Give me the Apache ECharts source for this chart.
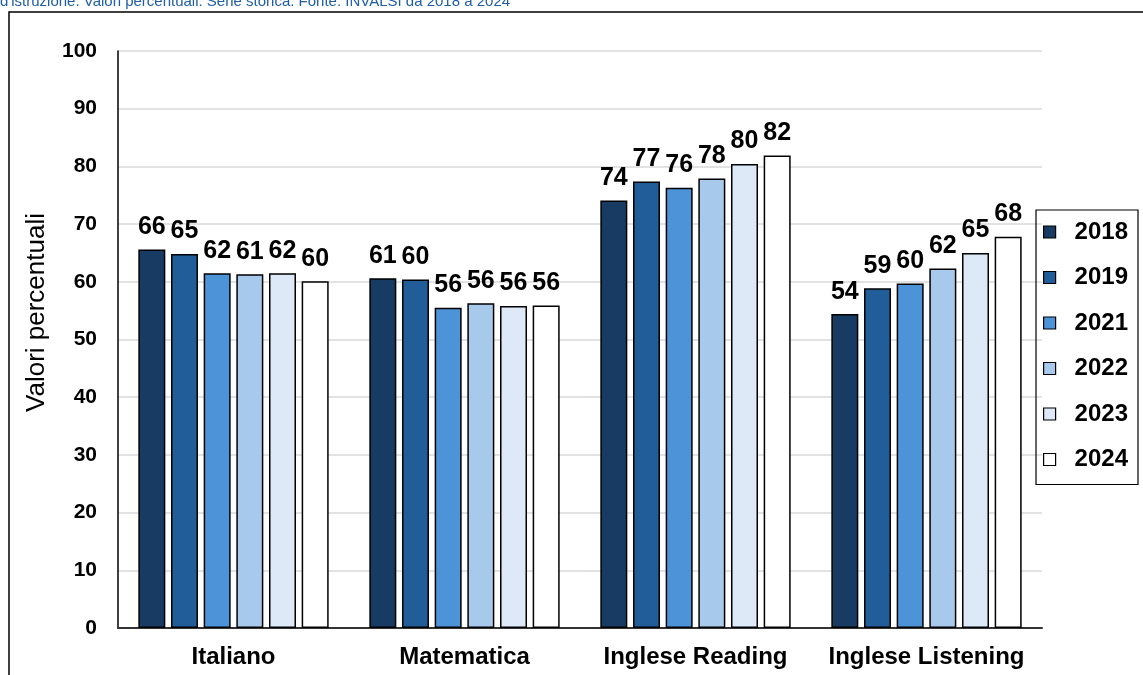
<!DOCTYPE html>
<html><head><meta charset="utf-8">
<script src="https://cdn.jsdelivr.net/npm/echarts@6/dist/echarts.min.js"></script>
<style>html,body{margin:0;padding:0;background:#fff}#c{width:1143px;height:675px}</style>
</head><body><div id="c"></div>
<script>
const categories = ['Italiano', 'Matematica', 'Inglese Reading', 'Inglese Listening'];
const years = ['2018', '2019', '2021', '2022', '2023', '2024'];
const v2018 = [65.6, 60.6, 74.1, 54.4];
const v2019 = [64.8, 60.4, 77.4, 58.9];
const v2021 = [61.5, 55.5, 76.3, 59.7];
const v2022 = [61.3, 56.3, 77.9, 62.3];
const v2023 = [61.5, 55.8, 80.4, 65.0];
const v2024 = [60.1, 55.9, 81.9, 67.8];
const yTicks = [0, 10, 20, 30, 40, 50, 60, 70, 80, 90, 100];
const titleText = "d'istruzione. Valori percentuali. Serie storica. Fonte: INVALSI da 2018 a 2024";
const yName = 'Valori percentuali';

const values = [v2018, v2019, v2021, v2022, v2023, v2024];
const colors = ['#173b63', '#215d98', '#4c93d8', '#a7caec', '#dde9f6', '#ffffff'];
const font = "'Liberation Sans', Arial, sans-serif";

const chart = echarts.init(document.getElementById('c'));
chart.setOption({
  animation: false,
  backgroundColor: '#fff',
  graphic: [
    { type: 'rect', shape: { x: 9, y: 12, width: 1200, height: 700 }, style: { fill: 'none', stroke: '#000', lineWidth: 1.5 }, z: 0 },
    { type: 'text', left: 0, top: -6, style: { text: titleText, fill: '#1f5ea6', font: '15px ' + font } }
  ],
  grid: { left: 118, right: 101, top: 51, bottom: 47, containLabel: false },
  legend: {
    orient: 'vertical', right: 5, top: 210,
    data: years,
    itemWidth: 12, itemHeight: 12, itemGap: 21.5,
    icon: 'rect',
    borderColor: '#000', borderWidth: 1.2, padding: [10, 10, 13, 7],
    textStyle: { fontSize: 24, fontWeight: 'bold', color: '#000', fontFamily: font, padding: [0, 0, 0, 14] },
    itemStyle: { borderColor: '#000', borderWidth: 1.2 }
  },
  xAxis: {
    type: 'category', data: categories,
    axisLine: { lineStyle: { color: '#333', width: 2 } },
    axisTick: { show: false },
    axisLabel: { interval: 0, fontSize: 24, fontWeight: 'bold', color: '#000', fontFamily: font, margin: 17 }
  },
  yAxis: {
    type: 'value', min: 0, max: 100, interval: 10,
    name: yName, nameLocation: 'middle', nameGap: 68,
    nameTextStyle: { fontSize: 26, color: '#000', fontFamily: font, padding: [0, 0, 0, 54] },
    axisLine: { show: true, lineStyle: { color: '#000', width: 1.5 } },
    axisTick: { show: false },
    axisLabel: { fontSize: 21, fontWeight: 'bold', color: '#000', fontFamily: font, margin: 21,
      formatter: v => yTicks.includes(v) ? String(v) : '' },
    splitLine: { lineStyle: { color: '#d9d9d9', width: 1.5 } }
  },
  series: years.map((y, i) => ({
    name: y, type: 'bar', data: values[i],
    barWidth: 27, barGap: '21%',
    itemStyle: { color: colors[i], borderColor: '#000', borderWidth: 1.5 },
    label: { show: true, position: 'top', distance: 10, fontSize: 25, fontWeight: 'bold', color: '#000', fontFamily: font,
      formatter: p => Math.round(p.value) }
  }))
});
</script></body></html>
